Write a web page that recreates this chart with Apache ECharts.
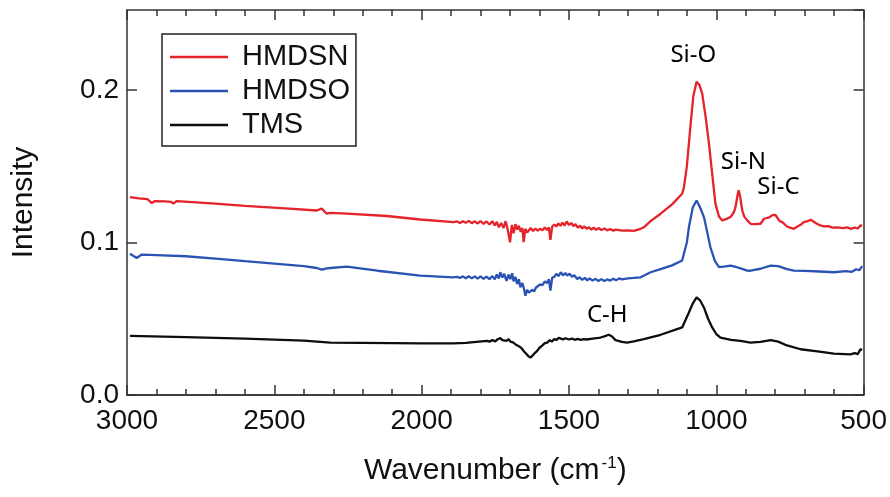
<!DOCTYPE html>
<html>
<head>
<meta charset="utf-8">
<script src="https://cdn.jsdelivr.net/npm/echarts@6/dist/echarts.min.js"></script>
<style>
  html, body { margin: 0; padding: 0; background: #fff; }
  #chart { width: 890px; height: 497px; }
</style>
</head>
<body>
<div id="chart"></div>
<script>
// wavenumber ticks and series
const xTicks = [3000, 2500, 2000, 1500, 1000, 500];
const yTicks = [0.0, 0.1, 0.2];

const hmdsnWn = [2990, 2960, 2930, 2916, 2905, 2870, 2850, 2843, 2831, 2700, 2600, 2450, 2356, 2339, 2322, 2310, 2254, 2118, 2005, 1892,
  1880, 1870, 1860, 1850, 1840, 1830, 1820, 1810, 1800, 1790, 1780, 1770, 1760, 1752, 1745, 1738, 1730, 1722, 1715, 1708,
  1700, 1694, 1688, 1682, 1676, 1670, 1664, 1658, 1654, 1648, 1642, 1637, 1630, 1622, 1614, 1606, 1598, 1590, 1582, 1574,
  1568, 1563, 1557, 1550, 1543, 1536, 1529, 1522, 1515, 1508, 1500, 1492, 1485, 1478, 1470, 1462, 1455, 1448, 1440, 1432,
  1424, 1416, 1408, 1400, 1390, 1380, 1370, 1360, 1350, 1340, 1320, 1300, 1280, 1257, 1246, 1223, 1189, 1150, 1116, 1110,
  1100, 1088, 1078, 1067, 1058, 1048, 1036, 1025, 1014, 1003, 991, 980, 965, 952, 940, 935, 928, 924, 919, 912,
  905, 895, 884, 870, 850, 838, 820, 810, 805, 800, 795, 785, 776, 760, 750, 737, 720, 710, 703, 690,
  680, 674, 668, 660, 647, 635, 620, 605, 590, 570, 555, 545, 530, 520, 511, 505];
const hmdsnI = [0.1298, 0.1290, 0.1284, 0.1259, 0.1272, 0.1270, 0.1266, 0.1255, 0.1272, 0.1255, 0.1240, 0.1222, 0.1210, 0.1222, 0.1189, 0.1195, 0.1189, 0.1174, 0.1151, 0.1134,
  0.1138, 0.1128, 0.1140, 0.1130, 0.1142, 0.1127, 0.1139, 0.1125, 0.1141, 0.1122, 0.1138, 0.1118, 0.1140, 0.1112, 0.1135, 0.1100, 0.1128, 0.1095, 0.1140, 0.1085,
  0.1002, 0.1115, 0.1060, 0.1120, 0.1085, 0.1110, 0.1070, 0.1095, 0.1002, 0.1090, 0.1065, 0.1057, 0.1095, 0.1075, 0.1092, 0.1078, 0.1090, 0.1080, 0.1098, 0.1082,
  0.1100, 0.1018, 0.1105, 0.1118, 0.1105, 0.1125, 0.1110, 0.1130, 0.1112, 0.1138, 0.1115, 0.1128, 0.1108, 0.1120, 0.1098, 0.1110, 0.1092, 0.1106, 0.1090, 0.1100,
  0.1085, 0.1098, 0.1083, 0.1095, 0.1082, 0.1092, 0.1080, 0.1088, 0.1078, 0.1085, 0.1078, 0.1080, 0.1076, 0.1090, 0.1100, 0.1140, 0.1189, 0.1250, 0.1320, 0.1360,
  0.1500, 0.1760, 0.1960, 0.2055, 0.2035, 0.1978, 0.1820, 0.1650, 0.1450, 0.1255, 0.1170, 0.1145, 0.1155, 0.1167, 0.1200, 0.1232, 0.1310, 0.1342, 0.1300, 0.1210,
  0.1170, 0.1145, 0.1123, 0.1120, 0.1123, 0.1156, 0.1165, 0.1180, 0.1189, 0.1182, 0.1175, 0.1140, 0.1134, 0.1105, 0.1098, 0.1090, 0.1110, 0.1122, 0.1134, 0.1140,
  0.1150, 0.1149, 0.1135, 0.1125, 0.1112, 0.1106, 0.1108, 0.1098, 0.1100, 0.1095, 0.1100, 0.1090, 0.1098, 0.1092, 0.1112, 0.1110];

const hmdsoWn = [2990, 2967, 2950, 2900, 2800, 2700, 2600, 2500, 2400, 2356, 2339, 2322, 2310, 2254, 2150, 2005, 1893,
  1880, 1870, 1860, 1850, 1840, 1830, 1820, 1810, 1800, 1790, 1780, 1770, 1760, 1752, 1745, 1738, 1733, 1726, 1720, 1712,
  1705, 1699, 1693, 1688, 1682, 1676, 1670, 1665, 1658, 1652, 1648, 1642, 1636, 1631, 1625, 1618, 1612, 1606, 1598, 1590,
  1582, 1574, 1568, 1563, 1557, 1550, 1543, 1535, 1528, 1520, 1512, 1506, 1498, 1490, 1482, 1472, 1464, 1455, 1446, 1438,
  1430, 1420, 1410, 1400, 1390, 1380, 1370, 1360, 1350, 1340, 1330, 1320, 1300, 1280, 1257, 1223, 1189, 1150, 1116, 1100,
  1093, 1080, 1067, 1055, 1042, 1030, 1020, 1005, 991, 975, 952, 930, 910, 895, 884, 850, 816, 790, 760, 737,
  700, 650, 601, 560, 540, 525, 515, 505];
const hmdsoI = [0.0926, 0.0899, 0.0921, 0.0918, 0.0910, 0.0895, 0.0878, 0.0862, 0.0845, 0.0833, 0.0822, 0.0830, 0.0833, 0.0842, 0.0815, 0.0783, 0.0772,
  0.0775, 0.0768, 0.0778, 0.0766, 0.0779, 0.0765, 0.0778, 0.0763, 0.0778, 0.0762, 0.0776, 0.0760, 0.0780, 0.0758, 0.0790, 0.0765, 0.0805, 0.0770, 0.0795, 0.0748,
  0.0790, 0.0760, 0.0798, 0.0745, 0.0775, 0.0728, 0.0760, 0.0706, 0.0735, 0.0690, 0.0651, 0.0690, 0.0672, 0.0662, 0.0690, 0.0680, 0.0705, 0.0700, 0.0725, 0.0720,
  0.0745, 0.0735, 0.0760, 0.0684, 0.0770, 0.0775, 0.0795, 0.0780, 0.0805, 0.0785, 0.0800, 0.0783, 0.0796, 0.0775, 0.0785, 0.0761, 0.0772, 0.0755, 0.0768, 0.0752,
  0.0765, 0.0750, 0.0762, 0.0748, 0.0760, 0.0748, 0.0758, 0.0750, 0.0762, 0.0752, 0.0765, 0.0758, 0.0765, 0.0768, 0.0772, 0.0805, 0.0826, 0.0850, 0.0882, 0.1000,
  0.1100, 0.1230, 0.1276, 0.1230, 0.1167, 0.1060, 0.0969, 0.0880, 0.0838, 0.0842, 0.0849, 0.0838, 0.0825, 0.0816, 0.0815, 0.0828, 0.0849, 0.0845, 0.0825, 0.0816,
  0.0814, 0.0810, 0.0805, 0.0812, 0.0808, 0.0825, 0.0818, 0.0845];

const tmsWn = [2990, 2800, 2600, 2400, 2310, 2100, 2005, 1893, 1850, 1778,
  1770, 1760, 1750, 1742, 1733, 1726, 1720, 1712, 1705, 1699, 1690, 1680, 1670, 1660, 1654, 1645, 1638, 1631, 1624, 1616,
  1608, 1600, 1590, 1582, 1574, 1565, 1558, 1550, 1543, 1535, 1529, 1520, 1512, 1500, 1490, 1480, 1470, 1460, 1450, 1440,
  1420, 1400, 1393, 1380, 1365, 1355, 1342, 1320, 1303, 1280, 1246, 1189, 1116, 1093, 1080, 1067, 1055, 1042, 1028, 1014,
  1000, 986, 950, 918, 884, 850, 816, 790, 760, 714, 650, 601, 545, 530, 520, 511, 505];
const tmsI = [0.0388, 0.0380, 0.0370, 0.0356, 0.0344, 0.0340, 0.0338, 0.0339, 0.0342, 0.0355,
  0.0350, 0.0360, 0.0352, 0.0366, 0.0373, 0.0360, 0.0372, 0.0355, 0.0366, 0.0350, 0.0345, 0.0330, 0.0320, 0.0305, 0.0289, 0.0270, 0.0255, 0.0245, 0.0258, 0.0275,
  0.0289, 0.0310, 0.0325, 0.0340, 0.0344, 0.0360, 0.0350, 0.0368, 0.0360, 0.0375, 0.0377, 0.0365, 0.0372, 0.0364, 0.0370, 0.0362, 0.0368, 0.0362, 0.0366, 0.0364,
  0.0370, 0.0374, 0.0377, 0.0385, 0.0395, 0.0385, 0.0360, 0.0348, 0.0344, 0.0352, 0.0366, 0.0395, 0.0443, 0.0541, 0.0600, 0.0640, 0.0620, 0.0574, 0.0500, 0.0443,
  0.0400, 0.0377, 0.0362, 0.0355, 0.0344, 0.0348, 0.0360, 0.0350, 0.0325, 0.0300, 0.0285, 0.0272, 0.0267, 0.0275, 0.0268, 0.0300, 0.0296];

// peak labels: [wavenumber, intensity, text]
const peakLabels = [
  [1078, 0.223, 'Si-O'],
  [908, 0.1528, 'Si-N'],
  [789, 0.1364, 'Si-C'],
  [1370, 0.0525, 'C-H']
];

const seriesNames = ['HMDSN', 'HMDSO', 'TMS'];
const seriesColors = ['#e4232a', '#2a53b3', '#0d0d0d'];

const zip = (xs, ys) => xs.map((x, i) => [x, ys[i]]);

const font = 'Liberation Sans, Arial, sans-serif';
const axisColor = '#333';

const chart = echarts.init(document.getElementById('chart'), null, { renderer: 'canvas' });

const xBase = {
  type: 'value', min: 500, max: 3000, interval: 500, inverse: true,
  axisLine: { show: true, onZero: false, lineStyle: { color: axisColor, width: 1.5 } },
  axisTick: { show: true, inside: true, length: 10, lineStyle: { color: axisColor, width: 1.5 } },
  minorTick: { show: true, splitNumber: 5, length: 6, lineStyle: { color: axisColor, width: 1.5 } },
  axisLabel: { show: false },
  splitLine: { show: false }
};
const yBase = {
  type: 'value', min: 0, max: 0.2525, interval: 0.1,
  axisLine: { show: true, onZero: false, lineStyle: { color: axisColor, width: 1.5 } },
  axisTick: { show: true, inside: true, length: 10, lineStyle: { color: axisColor, width: 1.5 } },
  splitLine: { show: false }
};

chart.setOption({
  animation: false,
  backgroundColor: '#fff',
  grid: { left: 127, right: 26, top: 10, bottom: 102 },
  legend: {
    data: seriesNames,
    orient: 'vertical',
    left: 162, top: 34,
    padding: [8, 6, 6, 8],
    itemGap: 4,
    itemWidth: 58, itemHeight: 2.5,
    icon: 'rect',
    borderColor: '#222', borderWidth: 1.5,
    textStyle: { fontFamily: font, fontSize: 29, color: '#111', lineHeight: 30, padding: [0, 0, 0, 9] }
  },
  xAxis: [
    Object.assign({}, xBase, {
      position: 'bottom',
      minorTick: { show: false },
      axisLabel: { show: true, fontFamily: font, fontSize: 28, color: '#111', margin: 12,
        formatter: v => xTicks.includes(v) ? String(v) : '' },
      name: '{a|Wavenumber (cm}{s|-1}{a|)}',
      nameLocation: 'middle', nameGap: 60,
      nameTextStyle: {
        rich: {
          a: { fontFamily: font, fontSize: 30, color: '#111' },
          s: { fontFamily: font, fontSize: 17, color: '#111', verticalAlign: 'top', padding: [0, 0, 14, 2] }
        }
      }
    }),
    Object.assign({}, xBase, { position: 'top' }),
    // unlabelled copy of the bottom axis, only for the 100 cm-1 minor ticks
    Object.assign({}, xBase, { position: 'bottom' })
  ],
  yAxis: [
    Object.assign({}, yBase, {
      position: 'left',
      axisLabel: { show: true, fontFamily: font, fontSize: 28, color: '#111', margin: 8, showMaxLabel: false,
        formatter: v => yTicks.some(t => Math.abs(t - v) < 1e-9) ? v.toFixed(1) : '' },
      name: 'Intensity',
      nameLocation: 'middle', nameGap: 88,
      nameTextStyle: { fontFamily: font, fontSize: 30, color: '#111' }
    }),
    Object.assign({}, yBase, { position: 'right', axisLabel: { show: false } })
  ],
  series: [
    { name: seriesNames[0], data: zip(hmdsnWn, hmdsnI) },
    { name: seriesNames[1], data: zip(hmdsoWn, hmdsoI) },
    { name: seriesNames[2], data: zip(tmsWn, tmsI) }
  ].map((s, i) => Object.assign(s, {
    type: 'line', showSymbol: false, symbol: 'none', smooth: false,
    xAxisIndex: 0, yAxisIndex: 0,
    color: seriesColors[i],
    lineStyle: { color: seriesColors[i], width: 2.3 },
    z: 3 - i
  })).concat([{
    name: 'labels', type: 'scatter', xAxisIndex: 0, yAxisIndex: 0,
    data: peakLabels, symbolSize: 0, silent: true,
    itemStyle: { color: 'transparent' },
    label: { show: true, position: 'inside', formatter: p => p.value[2],
      fontFamily: 'Noto Sans, Open Sans, sans-serif', fontSize: 24, color: '#000',
      opacity: 1, textBorderWidth: 0 }
  }])
});
</script>
</body>
</html>
